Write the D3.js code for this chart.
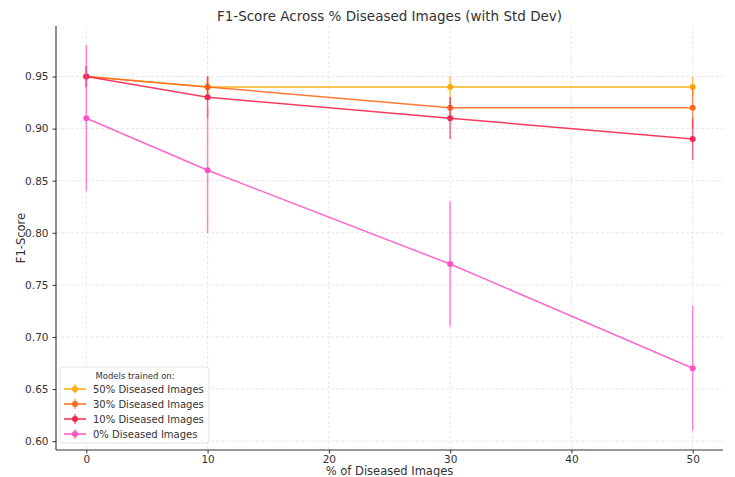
<!DOCTYPE html>
<html>
<head>
<meta charset="utf-8">
<script src="https://cdn.jsdelivr.net/npm/d3@7"></script>
<style>
  body { margin: 0; background: #fff; }
  text { font-family: "DejaVu Sans", sans-serif; fill: #333; }
</style>
</head>
<body>
<div id="chart"></div>
<script>
// data
const pctDiseased = [0, 10, 30, 50]
const seriesNames = ['50% Diseased Images', '30% Diseased Images', '10% Diseased Images', '0% Diseased Images']
const f1_50 = [0.95, 0.94, 0.94, 0.94]
const f1_30 = [0.95, 0.94, 0.92, 0.92]
const f1_10 = [0.95, 0.93, 0.91, 0.89]
const f1_0 = [0.91, 0.86, 0.77, 0.67]
const std_50 = [0.01, 0.01, 0.01, 0.01]
const std_30 = [0.01, 0.01, 0.01, 0.02]
const std_10 = [0.01, 0.02, 0.02, 0.02]
const std_0 = [0.07, 0.06, 0.06, 0.06]
const xTicks = [0, 10, 20, 30, 40, 50]
const yTicks = [0.60, 0.65, 0.70, 0.75, 0.80, 0.85, 0.90, 0.95]

const colors = ['#ffaa00', '#ff6a1f', '#f5284c', '#ff55c4']
const series = [
  { name: seriesNames[0], vals: f1_50, std: std_50, color: colors[0] },
  { name: seriesNames[1], vals: f1_30, std: std_30, color: colors[1] },
  { name: seriesNames[2], vals: f1_10, std: std_10, color: colors[2] },
  { name: seriesNames[3], vals: f1_0, std: std_0, color: colors[3] }
]

const width = 735, height = 477
const margin = { top: 26, left: 56, right: 12, bottom: 27 }
const plotW = width - margin.left - margin.right
const plotH = height - margin.top - margin.bottom

const svg = d3.select('#chart').append('svg')
  .attr('width', width).attr('height', height)

const g = svg.append('g')
  .attr('transform', `translate(${margin.left},${margin.top})`)

const x = d3.scaleLinear().domain([-2.5, 52.5]).range([0, plotW])
const y = d3.scaleLinear().domain([0.5915, 0.9985]).range([plotH, 0])

// grid
g.append('g').selectAll('line').data(xTicks).join('line')
  .attr('x1', d => x(d)).attr('x2', d => x(d))
  .attr('y1', 0).attr('y2', plotH)
  .attr('stroke', '#e0e0e0').attr('stroke-width', 0.8).attr('stroke-dasharray', '3,2')
g.append('g').selectAll('line').data(yTicks).join('line')
  .attr('x1', 0).attr('x2', plotW)
  .attr('y1', d => y(d)).attr('y2', d => y(d))
  .attr('stroke', '#e0e0e0').attr('stroke-width', 0.8).attr('stroke-dasharray', '3,2')

// axes
const xAxis = g.append('g')
  .attr('transform', `translate(0,${plotH})`)
  .call(d3.axisBottom(x).tickValues(xTicks).tickSize(3.5).tickPadding(2))
const yAxis = g.append('g')
  .call(d3.axisLeft(y).tickValues(yTicks).tickFormat(d3.format('.2f')).tickSize(3.5).tickPadding(4))
;[xAxis, yAxis].forEach(a => {
  a.select('.domain').attr('stroke', '#333').attr('stroke-width', 1.1)
  a.selectAll('.tick line').attr('stroke', '#333')
  a.selectAll('.tick text').attr('font-size', 10.5).attr('fill', '#333')
    .attr('font-family', '"DejaVu Sans", sans-serif')
})
xAxis.select('.domain').attr('d', `M0,0H${plotW}`)
yAxis.select('.domain').attr('d', `M0,${plotH}V0`)

const line = d3.line().x((d, i) => x(pctDiseased[i])).y(d => y(d))

series.forEach(s => {
  const sg = g.append('g')
  sg.append('path')
    .datum(s.vals)
    .attr('d', line)
    .attr('fill', 'none')
    .attr('stroke', s.color)
    .attr('stroke-width', 1.5)
    .attr('opacity', 0.9)
  sg.selectAll('line.err').data(s.vals).join('line')
    .attr('class', 'err')
    .attr('x1', (d, i) => x(pctDiseased[i])).attr('x2', (d, i) => x(pctDiseased[i]))
    .attr('y1', (d, i) => y(d - s.std[i])).attr('y2', (d, i) => y(d + s.std[i]))
    .attr('stroke', s.color).attr('stroke-width', 1.5).attr('opacity', 0.7)
  sg.selectAll('circle').data(s.vals).join('circle')
    .attr('cx', (d, i) => x(pctDiseased[i]))
    .attr('cy', d => y(d))
    .attr('r', 3)
    .attr('fill', s.color)
})

// title and labels
svg.append('text')
  .attr('x', margin.left + plotW / 2).attr('y', 21)
  .attr('text-anchor', 'middle').attr('font-size', 13.5)
  .text('F1-Score Across % Diseased Images (with Std Dev)')
svg.append('text')
  .attr('x', margin.left + plotW / 2).attr('y', 475)
  .attr('text-anchor', 'middle').attr('font-size', 11.5)
  .text('% of Diseased Images')
svg.append('text')
  .attr('transform', `translate(25,${margin.top + plotH / 2}) rotate(-90)`)
  .attr('text-anchor', 'middle').attr('font-size', 11.5)
  .text('F1-Score')

// legend
const lg = svg.append('g').attr('transform', 'translate(60,367)')
lg.append('rect')
  .attr('width', 149).attr('height', 76).attr('rx', 3)
  .attr('fill', '#fff').attr('fill-opacity', 0.8)
  .attr('stroke', '#ddd').attr('stroke-width', 0.8)
lg.append('text')
  .attr('x', 75).attr('y', 12).attr('text-anchor', 'middle')
  .attr('font-size', 8.5).text('Models trained on:')
series.forEach((s, i) => {
  const ly = 22 + i * 15
  const row = lg.append('g').attr('transform', `translate(0,${ly})`)
  row.append('line').attr('x1', 4).attr('x2', 26).attr('y1', 0).attr('y2', 0)
    .attr('stroke', s.color).attr('stroke-width', 1.5)
  row.append('line').attr('x1', 15).attr('x2', 15).attr('y1', -5).attr('y2', 5)
    .attr('stroke', s.color).attr('stroke-width', 1.5).attr('opacity', 0.7)
  row.append('circle').attr('cx', 15).attr('cy', 0).attr('r', 3).attr('fill', s.color)
  row.append('text').attr('x', 33).attr('y', 4).attr('font-size', 10).text(s.name)
})
</script>
</body>
</html>
